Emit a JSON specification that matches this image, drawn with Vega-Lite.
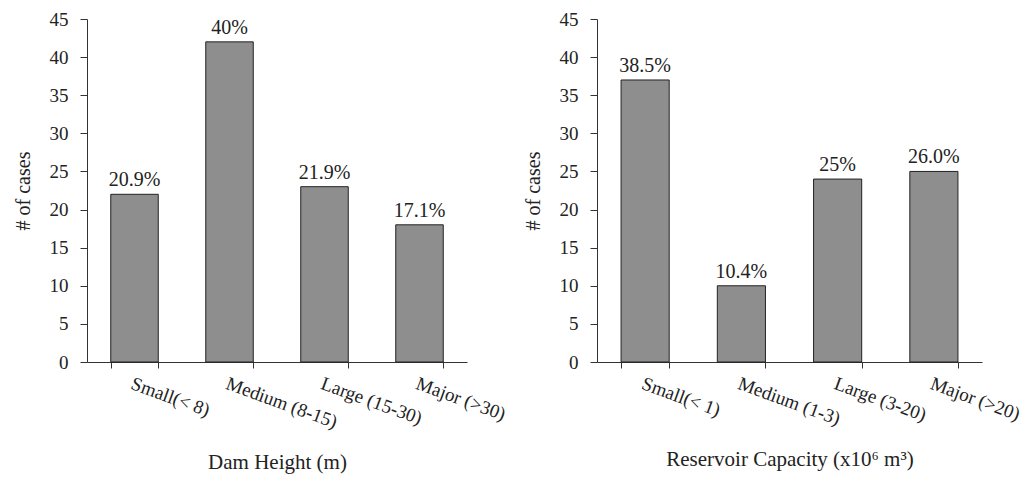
{
  "$schema": "https://vega.github.io/schema/vega-lite/v6.json",
  "padding": {"left": 13, "top": 10, "right": 5, "bottom": 5},
  "background": "white",
  "config": {
    "font": "Liberation Serif",
    "view": {"stroke": null},
    "concat": {"spacing": 130},
    "text": {"font": "Liberation Serif"},
    "axis": {
      "labelFont": "Liberation Serif",
      "titleFont": "Liberation Serif",
      "labelFontSize": 19,
      "titleFontSize": 20,
      "titleFontWeight": "normal",
      "labelColor": "#222",
      "titleColor": "#222",
      "domainColor": "#333",
      "tickColor": "#333",
      "grid": false
    }
  },
  "bounds": "flush",
  "hconcat": [
    {
      "width": 380,
      "height": 343,
      "data": {"values": [
        {"cat": "Small(< 8)", "cases": 22, "pct": "20.9%"},
        {"cat": "Medium (8-15)", "cases": 42, "pct": "40%"},
        {"cat": "Large (15-30)", "cases": 23, "pct": "21.9%"},
        {"cat": "Major (>30)", "cases": 18, "pct": "17.1%"}
      ]},
      "encoding": {
        "x": {"field": "cat", "type": "nominal", "sort": null,
          "scale": {"paddingInner": 0.5, "paddingOuter": 0.25},
          "axis": {"title": "Dam Height (m)", "titleFontSize": 21, "labelFontSize": 19, "labelFont": "Liberation Serif", "labelAngle": 20, "labelAlign": "left", "labelBaseline": "top", "labelPadding": 6, "tickBand": "extent", "tickSize": 6, "titlePadding": 20}},
        "y": {"field": "cases", "type": "quantitative",
          "scale": {"domain": [0, 45], "nice": false},
          "axis": {"title": "# of cases", "labelFont": "Liberation Serif", "values": [0,5,10,15,20,25,30,35,40,45], "tickSize": 7, "labelPadding": 12, "titlePadding": 16}}
      },
      "layer": [
        {"mark": {"type": "bar", "fill": "#8e8e8e", "stroke": "#222", "strokeWidth": 1}},
        {"mark": {"type": "text", "baseline": "bottom", "dy": -4, "fontSize": 20, "color": "#222", "font": "Liberation Serif"},
         "encoding": {"text": {"field": "pct"}}}
      ]
    },
    {
      "width": 385,
      "height": 343,
      "data": {"values": [
        {"cat": "Small(< 1)", "cases": 37, "pct": "38.5%"},
        {"cat": "Medium (1-3)", "cases": 10, "pct": "10.4%"},
        {"cat": "Large (3-20)", "cases": 24, "pct": "25%"},
        {"cat": "Major (>20)", "cases": 25, "pct": "26.0%"}
      ]},
      "encoding": {
        "x": {"field": "cat", "type": "nominal", "sort": null,
          "scale": {"paddingInner": 0.5, "paddingOuter": 0.25},
          "axis": {"title": "Reservoir Capacity (x10⁶ m³)", "titleFontSize": 21, "labelFontSize": 19, "labelFont": "Liberation Serif", "labelAngle": 20, "labelAlign": "left", "labelBaseline": "top", "labelPadding": 6, "tickBand": "extent", "tickSize": 6, "titlePadding": 20}},
        "y": {"field": "cases", "type": "quantitative",
          "scale": {"domain": [0, 45], "nice": false},
          "axis": {"title": "# of cases", "labelFont": "Liberation Serif", "values": [0,5,10,15,20,25,30,35,40,45], "tickSize": 7, "labelPadding": 12, "titlePadding": 16}}
      },
      "layer": [
        {"mark": {"type": "bar", "fill": "#8e8e8e", "stroke": "#222", "strokeWidth": 1}},
        {"mark": {"type": "text", "baseline": "bottom", "dy": -4, "fontSize": 20, "color": "#222", "font": "Liberation Serif"},
         "encoding": {"text": {"field": "pct"}}}
      ]
    }
  ]
}
